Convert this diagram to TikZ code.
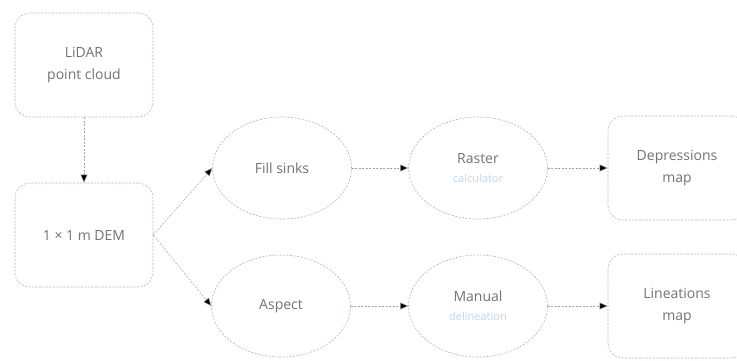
\documentclass[tikz,border=0pt]{standalone}
\usepackage{fontspec}
\setmainfont{Open Sans}
\usetikzlibrary{arrows.meta,shapes.geometric}
\definecolor{edgeblue}{RGB}{170,180,215}
\definecolor{txtgray}{RGB}{115,115,115}
\definecolor{faintblue}{RGB}{190,215,240}
\definecolor{arrgray}{RGB}{160,160,170}
\tikzset{
  x=1pt,y=-1pt,
  boxnode/.style={draw=edgeblue,dash pattern=on 2pt off 1.5pt,line width=0.6pt,rounded corners=15pt,
    minimum width=138pt,minimum height=104pt,text=txtgray,align=center,
    font=\fontsize{14}{22}\selectfont},
  ovalnode/.style={draw=edgeblue,dash pattern=on 2pt off 1.5pt,line width=0.6pt,ellipse,
    minimum width=139pt,minimum height=102pt,inner sep=0pt,text=txtgray,align=center,
    font=\fontsize{14}{22}\selectfont},
  link/.style={draw=arrgray,dash pattern=on 2pt off 1.5pt,line width=0.5pt,-{Triangle[length=8pt,width=7pt,fill=black]}}
}
\begin{document}
\begin{tikzpicture}
\useasboundingbox (0,0) rectangle (737,360);
\fill[white] (0,0) rectangle (737,360);
\begin{scope}
\clip (0,0) rectangle (737,360);
\node[boxnode] (lidar) at (84,65) {LiDAR\\point cloud};
\node[boxnode] (dem) at (84,235) {1 × 1 m DEM};
\node[ovalnode] (fill) at (282,168) {Fill sinks};
\node[ovalnode] (aspect) at (281,306) {Aspect};
\node[ovalnode] (raster) at (478,168) {Raster\\[-3pt]{\color{faintblue}\fontsize{11}{14}\selectfont calculator}};
\node[ovalnode] (manual) at (478,306) {Manual\\[-3pt]{\color{faintblue}\fontsize{11}{14}\selectfont delineation}};
\node[boxnode] (depr) at (677,168) {Depressions\\map};
\node[boxnode] (line) at (677,306) {Lineations\\map};
\draw[link] (lidar.south) -- (dem.north);
\draw[link] (dem.east) -- (fill.west);
\draw[link] (dem.east) -- (aspect.west);
\draw[link] (fill.east) -- (raster.west);
\draw[link] (aspect.east) -- (manual.west);
\draw[link] (raster.east) -- (depr.west);
\draw[link] (manual.east) -- (line.west);
\end{scope}
\end{tikzpicture}
\end{document}
